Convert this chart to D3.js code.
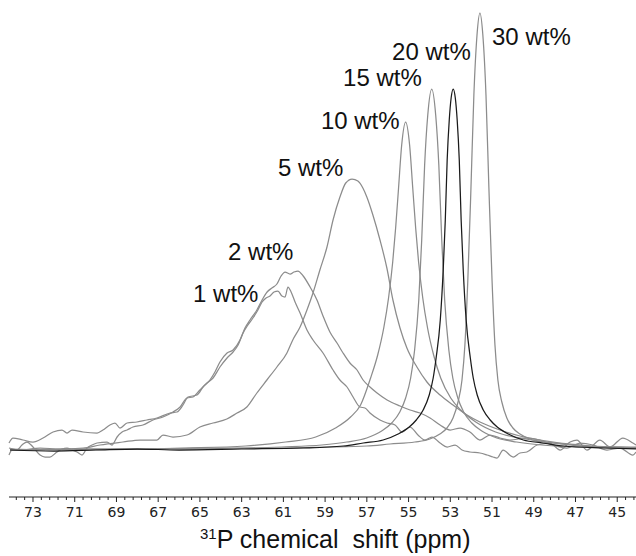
<!DOCTYPE html>
<html>
<head>
<meta charset="utf-8">
<script src="https://cdn.jsdelivr.net/npm/d3@7"></script>
<style>
  body { margin: 0; background: #fff; }
  svg { display: block; }
  .lbl { font-family: "Liberation Sans", Arial, sans-serif; font-size: 24px; fill: #111; }
  .tick-lbl { font-family: "DejaVu Sans", Verdana, sans-serif; font-size: 14px; fill: #222; }
  .title { font-family: "Liberation Sans", Arial, sans-serif; fill: #111; white-space: pre; }
</style>
</head>
<body>
<div id="chart"></div>
<script>
// 31P spectra, [ppm, intensity (a.u.)]
var wt1 = [[74.15,-5],[74.01,0],[73.77,0],[73.53,5],[73.29,8],[73.00,3],[72.66,-5],[72.42,-7],[72.19,-7],[71.85,-2],[71.61,1],[71.37,2],[71.13,0],[70.89,-2],[70.65,-5],[70.41,2],[70.17,5],[69.93,7],[69.45,8],[69.21,5],[68.97,13],[68.73,18],[68.49,20],[68.21,23],[67.73,25],[67.25,30],[66.77,33],[66.29,38],[65.95,43],[65.62,52],[65.33,53],[65.00,60],[64.66,67],[64.37,72],[64.04,83],[63.70,92],[63.41,98],[63.17,105],[62.93,117],[62.70,125],[62.46,132],[62.22,140],[62.02,148],[61.83,152],[61.64,154],[61.45,158],[61.26,159],[61.07,154],[60.92,153],[60.78,163],[60.63,158],[60.44,148],[60.20,137],[59.87,120],[59.58,110],[59.10,97],[58.62,80],[58.29,70],[57.95,63],[57.66,53],[57.33,43],[57.09,42],[56.85,37],[56.37,30],[56.03,27],[55.65,25],[55.31,18],[54.93,23],[54.55,15],[54.21,10],[53.88,13],[53.49,7],[53.15,3],[52.77,5],[52.44,0],[52.06,-2],[51.58,-3],[51.24,-5],[50.95,-7],[50.76,-8],[50.47,0],[49.99,-7],[49.66,-3],[49.33,-2],[48.84,5],[48.22,7],[47.74,0],[47.26,8],[46.93,10],[46.45,0],[45.83,10],[45.35,3],[44.73,12],[44.25,7],[44.10,5]];

var wt2 = [[74.15,7],[73.96,12],[73.48,10],[73.00,8],[72.52,12],[72.04,18],[71.61,20],[71.37,17],[71.13,20],[70.60,18],[69.93,17],[69.65,20],[69.31,25],[69.07,27],[68.83,22],[68.49,27],[68.02,28],[67.54,30],[67.06,32],[66.43,37],[66.10,38],[65.81,45],[65.57,53],[65.14,55],[64.85,63],[64.52,70],[64.28,78],[64.04,88],[63.70,97],[63.41,100],[63.08,110],[62.84,122],[62.60,130],[62.27,140],[62.02,150],[61.78,158],[61.55,162],[61.31,166],[61.11,174],[60.92,178],[60.68,176],[60.49,178],[60.30,179],[60.05,174],[59.72,163],[59.39,150],[59.10,134],[58.77,118],[58.43,107],[58.14,97],[57.81,87],[57.47,80],[57.18,70],[56.85,63],[56.51,57],[56.03,50],[55.41,44],[54.93,40],[54.45,37],[53.97,32],[53.49,25],[53.01,20],[52.53,22],[52.06,18],[51.58,10],[51.10,15],[50.62,12],[50.14,10],[49.33,12],[48.70,10],[48.08,5],[47.41,2],[46.78,7],[46.16,5],[45.49,0],[44.87,2],[44.25,-5],[44.10,-2]];

var wt5 = [[74.15,2],[73.62,0],[72.66,2],[71.71,1],[70.60,2],[69.79,5],[68.69,8],[67.87,10],[67.06,10],[66.77,15],[66.29,13],[65.62,15],[65.00,23],[64.37,27],[63.71,31],[63.22,37],[62.75,43],[62.27,57],[61.79,70],[61.31,83],[60.83,97],[60.55,110],[60.20,123],[59.87,140],[59.58,157],[59.25,180],[58.91,203],[58.62,230],[58.29,253],[58.01,267],[57.71,271],[57.43,269],[57.19,262],[57.00,253],[56.71,235],[56.37,210],[56.04,182],[55.75,150],[55.41,122],[55.08,102],[54.60,83],[54.12,68],[53.49,55],[52.87,45],[52.20,35],[51.58,28],[50.62,20],[49.66,14],[48.70,10],[47.74,7],[46.78,5],[45.83,3],[44.87,3],[44.10,2]];

var wt10 = [[74.10,0],[71.0,1],[68.0,1],[65.68,2],[62.81,4],[60.89,8],[59.45,13],[58.50,22],[57.78,33],[57.30,45],[56.82,72],[56.48,95],[56.19,122],[55.96,152],[55.76,188],[55.62,222],[55.48,262],[55.33,305],[55.14,328],[54.95,305],[54.80,262],[54.66,222],[54.52,188],[54.32,152],[54.09,122],[53.80,95],[53.46,72],[52.98,52],[52.50,40],[51.78,28],[50.83,18],[49.39,11],[47.47,6],[44.60,3],[44.10,3]];

var wt15 = [[74.10,1],[71.0,0],[68.0,1],[65.0,1],[61.08,3],[59.16,5],[57.96,8],[57.01,12],[56.29,19],[55.81,27],[55.42,38],[55.14,52],[54.90,72],[54.71,100],[54.51,150],[54.37,210],[54.23,285],[54.08,335],[53.89,361],[53.70,335],[53.55,285],[53.41,210],[53.27,150],[53.07,100],[52.88,72],[52.64,52],[52.36,38],[51.97,27],[51.49,19],[50.77,12],[49.82,8],[48.62,5],[46.70,3],[44.10,2]];

var wt20 = [[74.10,0],[72.0,-1],[70.0,0],[68.0,1],[66.0,0],[63.0,1],[60.05,2],[58.13,4],[57.17,7],[56.22,10],[55.50,16],[54.97,23],[54.63,30],[54.30,40],[54.01,55],[53.82,72],[53.68,92],[53.48,130],[53.34,180],[53.24,230],[53.15,290],[53.05,330],[52.96,352],[52.86,361],[52.76,352],[52.67,330],[52.57,290],[52.48,230],[52.38,180],[52.24,130],[52.04,92],[51.90,72],[51.71,55],[51.42,40],[51.09,30],[50.75,23],[50.22,16],[49.50,10],[48.55,7],[47.59,4],[45.67,2],[44.10,1]];

var wt30 = [[74.10,0],[71.0,1],[68.0,1],[65.0,2],[62.0,2],[59.0,3],[57.0,4],[55.89,6],[54.70,8],[53.98,11],[53.50,16],[53.16,22],[52.87,32],[52.63,48],[52.44,70],[52.30,105],[52.16,170],[52.01,262],[51.87,355],[51.72,415],[51.58,437],[51.44,415],[51.29,355],[51.15,262],[51.00,170],[50.86,105],[50.72,70],[50.53,48],[50.29,32],[50.00,22],[49.66,16],[49.18,11],[48.46,8],[47.27,5],[46.08,3],[44.58,2],[44.10,2]];

var seriesData  = [wt1, wt2, wt5, wt10, wt15, wt30, wt20];
var seriesDark  = [false, false, false, false, false, false, true];

// where each label sits, in data units (ppm, intensity)
var labelNames = ['1 wt%', '2 wt%', '5 wt%', '10 wt%', '15 wt%', '20 wt%', '30 wt%'];
var labelPpm   = [65.33, 63.65, 61.26, 59.20, 58.14, 55.79, 51.00];
var labelInt   = [148, 190, 274, 321, 364, 390, 405];

var tickLabels = [73, 71, 69, 67, 65, 63, 61, 59, 57, 55, 53, 51, 49, 47, 45];

var width = 636, height = 556;

var svg = d3.select('#chart').append('svg')
    .attr('width', width)
    .attr('height', height);

var x = d3.scaleLinear().domain([74.15, 44.1]).range([9, 636]);
var y = d3.scaleLinear().domain([0, 437]).range([450, 13]);

var line = d3.line()
    .x(function(d) { return x(d[0]); })
    .y(function(d) { return y(d[1]); })
    .curve(d3.curveMonotoneX);

svg.append('g').selectAll('path')
    .data(seriesData)
    .enter().append('path')
    .attr('d', line)
    .attr('fill', 'none')
    .attr('stroke', function(d, i) { return seriesDark[i] ? '#1a1a1a' : '#8c8c8c'; })
    .attr('stroke-width', 1.25)
    .attr('stroke-linejoin', 'round');

svg.append('g').selectAll('text')
    .data(labelNames)
    .enter().append('text')
    .attr('class', 'lbl')
    .attr('x', function(d, i) { return x(labelPpm[i]); })
    .attr('y', function(d, i) { return y(labelInt[i]); })
    .text(function(d) { return d; });

// axis
var axisY = 497;
var ax = svg.append('g');
ax.append('line')
    .attr('x1', 9).attr('x2', 636)
    .attr('y1', axisY).attr('y2', axisY)
    .attr('stroke', '#222').attr('stroke-width', 1.2);

// minor ticks every 0.4 ppm
var minor = d3.range(0, 76).map(function(i) { return 73.8 - i * 0.4; })
    .filter(function(v) { return v > 44.1 && v < 74.15; });
ax.selectAll('.mt').data(minor).enter().append('line')
    .attr('x1', function(d) { return x(d); })
    .attr('x2', function(d) { return x(d); })
    .attr('y1', axisY)
    .attr('y2', function(d) {
        return Math.abs(d - Math.round(d)) < 0.01 && Math.round(d) % 2 === 1 ? axisY + 5 : axisY + 3;
    })
    .attr('stroke', '#222').attr('stroke-width', 1);

ax.selectAll('.tl').data(tickLabels).enter().append('text')
    .attr('class', 'tick-lbl')
    .attr('x', function(d) { return x(d); })
    .attr('y', 517)
    .attr('text-anchor', 'middle')
    .text(function(d) { return d; });

var title = svg.append('text')
    .attr('class', 'title')
    .attr('x', 200)
    .attr('y', 548);
title.append('tspan')
    .attr('font-size', 15)
    .attr('dy', -9)
    .text('31');
title.append('tspan')
    .attr('font-size', 25)
    .attr('dy', 9)
    .text('P chemical  shift (ppm)');
</script>
</body>
</html>
